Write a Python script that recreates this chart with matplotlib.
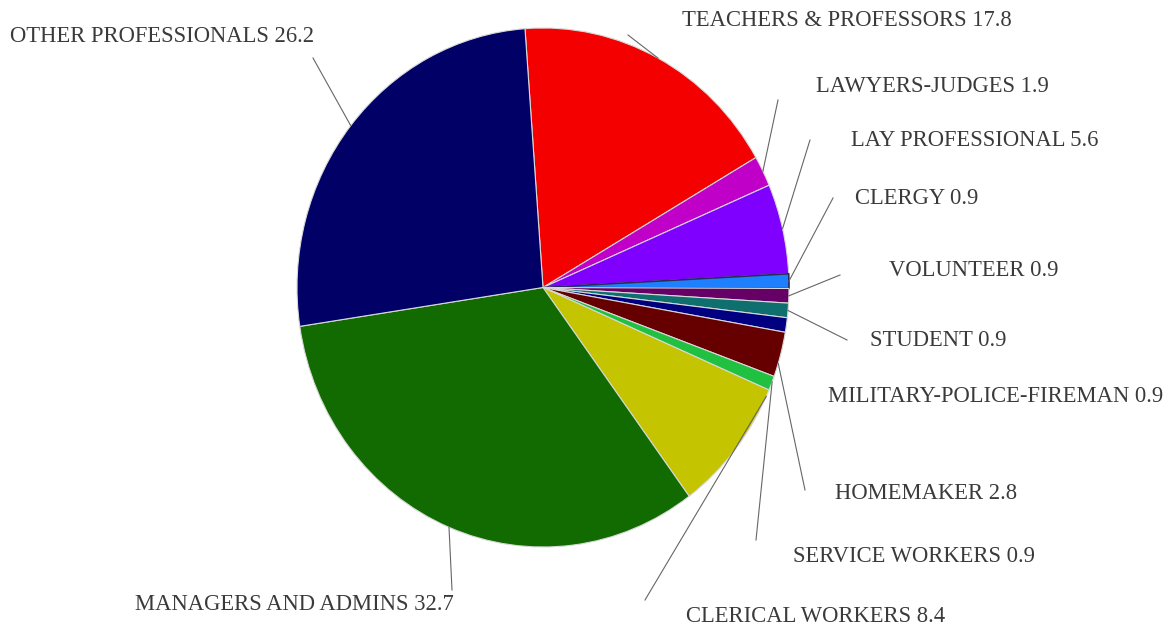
import numpy as np
import matplotlib
matplotlib.use('Agg')
import matplotlib.pyplot as plt

# occupation shares (percent), clockwise from the top
labels = ['TEACHERS & PROFESSORS', 'LAWYERS-JUDGES', 'LAY PROFESSIONAL', 'CLERGY',
          'VOLUNTEER', 'STUDENT', 'MILITARY-POLICE-FIREMAN', 'HOMEMAKER',
          'SERVICE WORKERS', 'CLERICAL WORKERS', 'MANAGERS AND ADMINS', 'OTHER PROFESSIONALS']
values = [17.8, 1.9, 5.6, 0.9, 0.9, 0.9, 0.9, 2.8, 0.9, 8.4, 32.7, 26.2]
colors = ['#f50000', '#c000c8', '#8000ff', '#1e80ff', '#660066', '#0f6e6e',
          '#000080', '#660000', '#20c040', '#c4c400', '#116b00', '#000066']

# label placement in image pixels: text left edge / centre line, leader outer end
text_pos = [(682, 20), (816, 87), (851, 140), (855, 199), (889, 270), (870, 340),
            (828, 397), (835, 493), (793, 556), (686, 617), (135, 604), (10, 37)]
leader_end = [(628, 35), (778, 100), (810, 140), (833, 198), (840, 275), (847, 340),
              None, (805, 490), (756, 540), (645, 600), (452, 590), (313, 58)]
# where along each wedge the leader touches (0..1 from theta1 to theta2)
touch = [0.5, 0.5, 0.5, 0.5, 0.5, 0.5, 0.5, 0.3, 0.6, 0.95, 0.5, 0.5]

W, H = 1174, 628
cx, cy, rx, ry = 543, 287.5, 246, 259.5


def px(x, y):
    return (x - cx) / rx, (cy - y) / ry


fig = plt.figure(figsize=(W / 100, H / 100), dpi=100)
ax = fig.add_axes([0, 0, 1, 1])

wedges, _ = ax.pie(values, colors=colors, startangle=94.2, counterclock=False,
                   radius=1, center=(0, 0),
                   wedgeprops=dict(edgecolor='#d8d8d8', linewidth=0.8))
wedges[3].set_edgecolor('#2a2a5a')
wedges[3].set_linewidth(1.2)

ax.set_aspect('auto')
ax.set_xlim(-cx / rx, (W - cx) / rx)
ax.set_ylim(-(H - cy) / ry, cy / ry)
ax.axis('off')

for i, w in enumerate(wedges):
    tx, ty = px(*text_pos[i])
    ax.text(tx, ty, f'{labels[i]} {values[i]}', ha='left', va='center',
            fontsize=16.3, family='Liberation Serif', color='#3a3a3a')
    if leader_end[i] is None:
        continue
    ang = np.deg2rad(w.theta1 + touch[i] * (w.theta2 - w.theta1))
    ex, ey = px(*leader_end[i])
    ax.plot([np.cos(ang), ex], [np.sin(ang), ey], color='#666666', lw=0.8)

fig.savefig('out.png', dpi=100)
